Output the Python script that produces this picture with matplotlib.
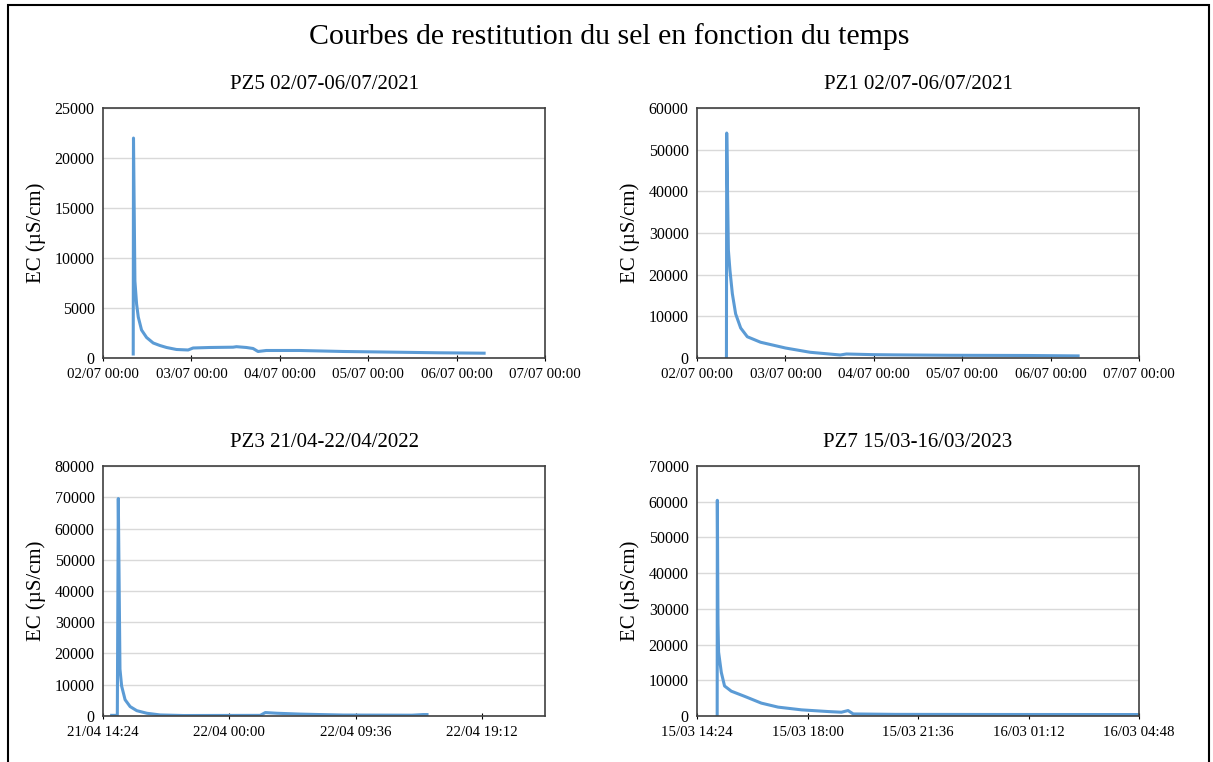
import numpy as np
import matplotlib.pyplot as plt
from matplotlib.patches import Rectangle

# time in days after the left edge of each axis, EC in µS/cm
pz5_t = [0.342, 0.345, 0.361, 0.38, 0.399, 0.436, 0.493, 0.568, 0.643, 0.719, 0.831, 0.963,
         1.019, 1.208, 1.471, 1.509, 1.622, 1.697, 1.753, 1.847, 2.223, 2.72, 3.15, 3.795, 4.31]
pz5_ec = [400, 22000, 7700, 5400, 4100, 2800, 2050, 1500, 1250, 1050, 850, 800,
          1000, 1050, 1080, 1130, 1050, 950, 650, 750, 750, 650, 600, 520, 480]

pz1_t = [0.333, 0.336, 0.355, 0.373, 0.40, 0.437, 0.494, 0.569, 0.719, 1.0, 1.28, 1.62,
         1.69, 1.99, 2.22, 2.86, 3.74, 4.31]
pz1_ec = [0, 54000, 25900, 21000, 15400, 10600, 7200, 5100, 3780, 2400, 1370, 720,
          960, 800, 750, 650, 600, 500]

pz3_t = [0.0275, 0.0454, 0.0485, 0.0538, 0.059, 0.070, 0.086, 0.107, 0.139, 0.181, 0.255,
         0.498, 0.514, 0.551, 0.625, 0.689, 0.761, 0.978, 1.014, 1.026]
pz3_ec = [200, 200, 69600, 15000, 9600, 5200, 3000, 1700, 870, 330, 150,
          200, 1090, 870, 600, 450, 300, 250, 450, 450]

pz7_t = [0.0274, 0.0276, 0.0285, 0.0293, 0.033, 0.0374, 0.0465, 0.0646, 0.0873, 0.11, 0.142,
         0.178, 0.196, 0.205, 0.212, 0.269, 0.394, 0.6]
pz7_ec = [0, 60400, 26000, 17900, 12200, 8400, 6950, 5500, 3600, 2480, 1710,
          1240, 1050, 1520, 570, 450, 420, 400]

titles = ["PZ5 02/07-06/07/2021", "PZ1 02/07-06/07/2021",
          "PZ3 21/04-22/04/2022", "PZ7 15/03-16/03/2023"]
labels_jul = ["02/07 00:00", "03/07 00:00", "04/07 00:00", "05/07 00:00", "06/07 00:00", "07/07 00:00"]
labels_apr = ["21/04 14:24", "22/04 00:00", "22/04 09:36", "22/04 19:12"]
labels_mar = ["15/03 14:24", "15/03 18:00", "15/03 21:36", "16/03 01:12", "16/03 04:48"]

plt.rcParams['font.family'] = ['Liberation Serif', 'DejaVu Serif']

fig = plt.figure(figsize=(12.13, 7.62), dpi=100)
fig.patches.append(Rectangle((8 / 1213, -0.05), 1201 / 1213, 1.05 - 5 / 762,
                             transform=fig.transFigure, fill=False, edgecolor='black', lw=1.5))

fig.text(609 / 1213, 1 - 37 / 762, "Courbes de restitution du sel en fonction du temps",
         ha='center', va='center', fontsize=21.5)

panels = [
    (pz5_t, pz5_ec, titles[0], [0.0849, 0.5302], 5, 1.0, labels_jul, 25000, 5000),
    (pz1_t, pz1_ec, titles[1], [0.5746, 0.5302], 5, 1.0, labels_jul, 60000, 10000),
    (pz3_t, pz3_ec, titles[2], [0.0849, 0.0604], 1.4, 0.4, labels_apr, 80000, 10000),
    (pz7_t, pz7_ec, titles[3], [0.5746, 0.0604], 0.6, 0.15, labels_mar, 70000, 10000),
]

for t, ec, title, pos, span, step, xlabels, ymax, ystep in panels:
    ax = fig.add_axes([pos[0], pos[1], 0.3645, 0.328])
    ax.plot(t, ec, color='#5B9BD5', lw=2.2, solid_joinstyle='round')
    ax.set_xlim(0, span)
    ax.set_ylim(0, ymax)
    ax.set_xticks(np.arange(len(xlabels)) * step)
    ax.set_xticklabels(xlabels)
    ax.set_yticks(np.arange(0, ymax + 1, ystep))
    ax.grid(axis='y', color='#D9D9D9', lw=1)
    ax.set_axisbelow(True)
    for s in ax.spines.values():
        s.set_color('#404040')
        s.set_linewidth(1.2)
    ax.tick_params(axis='y', length=0, labelsize=11.5, pad=6)
    ax.tick_params(axis='x', length=4, direction='inout', labelsize=10.7, pad=5)
    ax.set_ylabel("EC (µS/cm)", fontsize=15, labelpad=6)
    ax.set_title(title, fontsize=15, pad=14)

fig.savefig("out.png", dpi=100)
